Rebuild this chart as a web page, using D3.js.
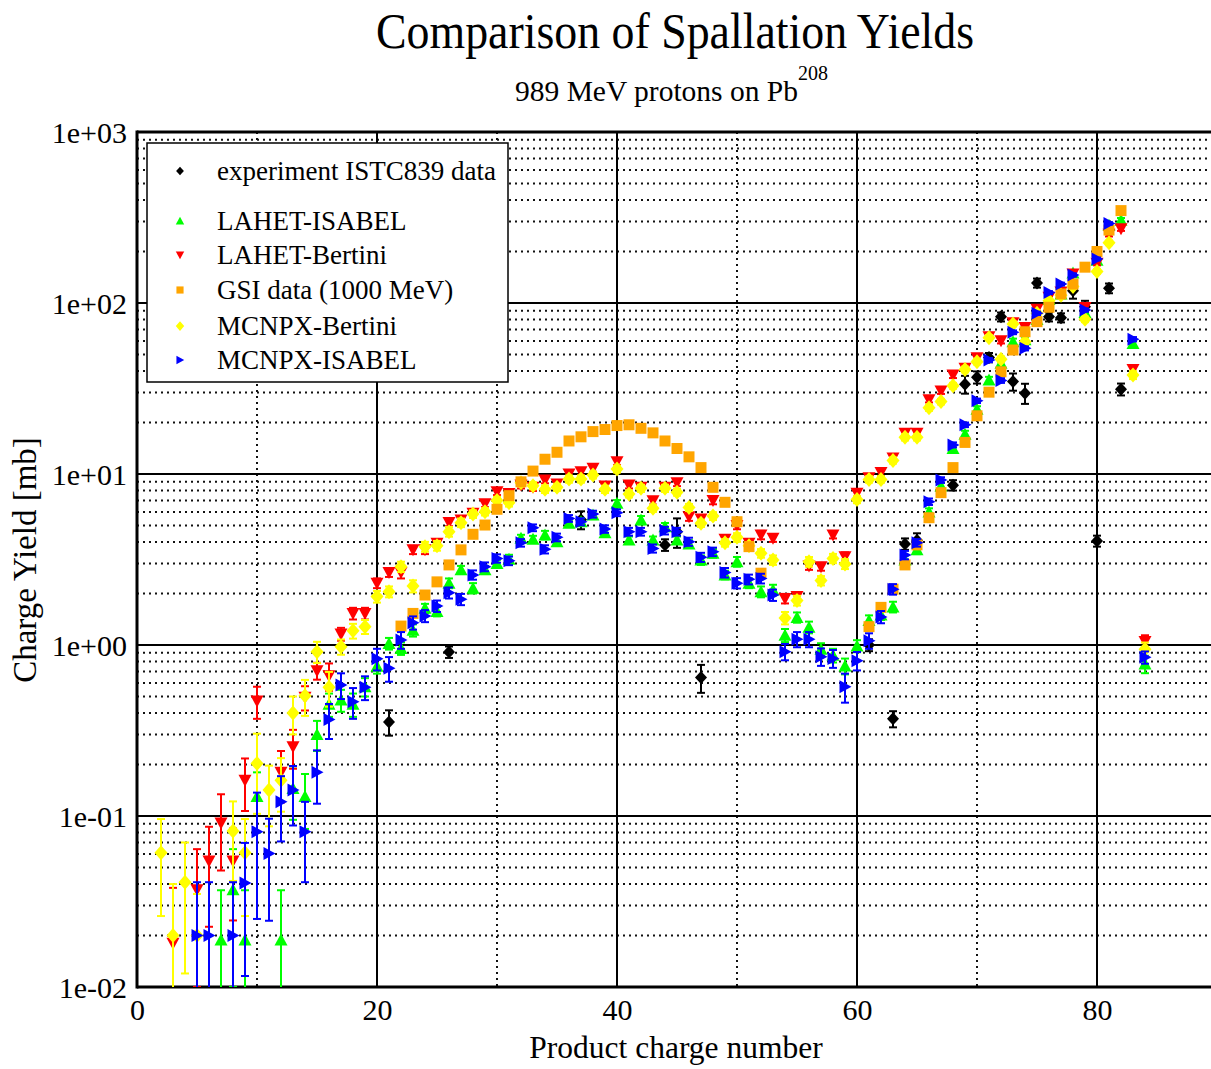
<!DOCTYPE html>
<html>
<head>
<meta charset="utf-8">
<script src="https://cdn.jsdelivr.net/npm/d3@7"></script>
<style>
	body { margin: 0; background: #fff; }
	svg { display: block; }
	text { font-family: "Liberation Serif", "DejaVu Serif", serif; fill: #000; }
</style>
</head>
<body>
<div id="chart"></div>
<script>
// Charge yields [mb] vs product charge Z, 989 MeV p + Pb208
// each entry: [Z, yield, error]
const experiment = [
	[21, 0.355, 0.06], [26, 0.91, 0.07], [37, 5.4, 0.65], [44, 3.85, 0.3], [45, 4.6, 0.9],
	[47, 0.645, 0.12], [61, 1.0, 0.08], [63, 0.37, 0.04], [64, 3.9, 0.3], [65, 4.1, 0.4],
	[68, 8.6, 0.6], [69, 33.5, 4], [70, 36.8, 3], [71, 48, 3], [72, 83, 5], [73, 34.7, 4],
	[74, 29.7, 4], [75, 131, 8], [76, 83, 5], [77, 82, 5], [78, 118, 12], [79, 95, 8],
	[80, 4.06, 0.3], [81, 122, 8], [82, 31.3, 2.5]
];

const lahetIsabel = [
	[7, 0.0188, 0.018], [8, 0.037, 0.027], [9, 0.0188, 0.018], [10, 0.13, 0.05], [12, 0.0188, 0.018],
	[13, 0.145, 0.05], [14, 0.13, 0.046], [15, 0.30, 0.06], [16, 0.45, 0.07], [17, 0.477, 0.07],
	[18, 0.45, 0.07], [19, 0.57, 0.07], [20, 0.75, 0.07], [21, 1.02, 0.08], [22, 0.955, 0.08],
	[23, 1.22, 0.1], [24, 1.64, 0.1], [25, 1.57, 0.1], [26, 2.3, 0.15], [27, 2.75, 0.15],
	[28, 2.15, 0.15], [29, 2.75, 0.15], [30, 3.0, 0.15], [31, 3.17, 0.2], [32, 4.21, 0.2],
	[33, 4.15, 0.2], [34, 4.4, 0.25], [35, 4.02, 0.2], [36, 5.15, 0.25], [37, 5.26, 0.25],
	[38, 5.75, 0.3], [39, 4.54, 0.25], [40, 6.74, 0.3], [41, 4.11, 0.2], [42, 5.38, 0.3],
	[43, 4.11, 0.2], [44, 4.92, 0.25], [45, 4.11, 0.2], [46, 3.9, 0.2], [47, 3.14, 0.2],
	[48, 3.44, 0.2], [49, 2.57, 0.15], [50, 3.07, 0.2], [51, 2.3, 0.15], [52, 2.05, 0.15],
	[53, 2.1, 0.15], [54, 1.14, 0.1], [55, 1.45, 0.1], [56, 1.27, 0.1], [57, 0.944, 0.08],
	[58, 0.87, 0.08], [59, 0.753, 0.08], [60, 0.987, 0.08], [61, 1.39, 0.1], [62, 1.5, 0.1],
	[63, 1.67, 0.12], [64, 3.14, 0.2], [65, 3.6, 0.2], [66, 6.0, 0.3], [67, 8.5, 0.4],
	[68, 14.1, 0.6], [69, 17.1, 0.8], [70, 23.9, 1], [71, 35.5, 1.5], [72, 44.4, 2],
	[73, 59.4, 2.5], [74, 61, 2.5], [75, 80, 3], [76, 105, 4], [77, 113, 4], [78, 150, 5],
	[79, 88, 4], [80, 178, 6], [81, 285, 8], [82, 305, 9], [83, 58, 3], [84, 0.774, 0.09]
];

const lahetBertini = [
	[3, 0.018, 0.02], [5, 0.037, 0.027], [6, 0.0545, 0.032], [7, 0.091, 0.043], [8, 0.0545, 0.03],
	[9, 0.162, 0.055], [10, 0.47, 0.1], [12, 0.18, 0.06], [13, 0.254, 0.065], [14, 0.494, 0.08],
	[15, 0.707, 0.08], [16, 0.66, 0.12], [17, 1.16, 0.1], [18, 1.53, 0.12], [19, 1.53, 0.12],
	[20, 2.3, 0.15], [21, 2.65, 0.15], [22, 2.65, 0.2], [23, 3.6, 0.2], [24, 3.6, 0.2],
	[25, 3.94, 0.2], [26, 5.2, 0.25], [27, 5.38, 0.25], [28, 5.89, 0.3], [29, 6.7, 0.3],
	[30, 7.88, 0.35], [31, 7.7, 0.35], [32, 8.63, 0.4], [33, 8.36, 0.4], [34, 9.22, 0.4],
	[35, 8.75, 0.4], [36, 10.0, 0.45], [37, 10.3, 0.45], [38, 10.8, 0.5], [39, 8.5, 0.4],
	[40, 11.8, 0.5], [41, 8.63, 0.4], [42, 8.36, 0.4], [43, 6.98, 0.35], [44, 8.36, 0.4],
	[45, 8.89, 0.4], [46, 5.62, 0.3], [47, 5.45, 0.3], [48, 7.0, 0.35], [49, 4.15, 0.25],
	[50, 5.0, 0.25], [51, 3.94, 0.2], [52, 4.4, 0.25], [53, 4.21, 0.2], [54, 1.87, 0.12],
	[55, 1.92, 0.12], [56, 2.9, 0.15], [57, 2.87, 0.15], [58, 4.4, 0.2], [59, 3.28, 0.2],
	[60, 7.71, 0.35], [61, 9.5, 0.4], [62, 10.2, 0.45], [63, 12.4, 0.5], [64, 17.3, 0.7],
	[65, 17.3, 0.7], [66, 27.2, 1], [67, 30.6, 1.2], [68, 37.9, 1.5], [69, 41.5, 1.6],
	[70, 47.9, 1.8], [71, 63.5, 2.2], [72, 60.2, 2.2], [73, 76.7, 2.5], [74, 72, 2.5],
	[75, 92, 3], [76, 108, 3.5], [77, 116, 4], [78, 148, 5], [79, 94, 3.5], [80, 171, 5],
	[81, 252, 7], [82, 272, 8], [83, 40.9, 2], [84, 1.05, 0.09]
];

const gsiData = [
	[22, 1.29, 0], [23, 1.53, 0], [24, 1.96, 0], [25, 2.34, 0], [26, 2.94, 0], [27, 3.6, 0],
	[28, 4.44, 0], [29, 5.03, 0], [30, 6.22, 0], [31, 7.47, 0], [32, 9.0, 0], [33, 10.4, 0],
	[34, 12.2, 0], [35, 13.4, 0], [36, 15.6, 0], [37, 16.5, 0], [38, 17.7, 0], [39, 18.2, 0],
	[40, 19.2, 0], [41, 19.4, 0], [42, 18.5, 0], [43, 17.4, 0], [44, 15.6, 0], [45, 14.1, 0],
	[46, 12.6, 0], [47, 10.9, 0], [48, 8.36, 0], [49, 6.83, 0], [50, 5.26, 0], [51, 3.76, 0],
	[52, 2.63, 0], [61, 1.28, 0], [62, 1.66, 0], [63, 2.12, 0], [64, 2.94, 0], [65, 3.85, 0],
	[66, 5.55, 0], [67, 7.78, 0], [68, 10.9, 0], [69, 15.3, 0], [70, 21.9, 0], [71, 30.1, 0],
	[72, 39.6, 0], [73, 53.1, 0], [74, 67.9, 0], [75, 77.8, 0], [76, 94.4, 0], [77, 113, 0],
	[78, 129, 0], [79, 162, 0], [80, 200, 0], [81, 267, 0], [82, 347, 0]
];

const mcnpxBertini = [
	[2, 0.061, 0.035], [3, 0.020, 0.02], [4, 0.041, 0.029], [5, 0.020, 0.015], [8, 0.0817, 0.04],
	[9, 0.061, 0.035], [10, 0.203, 0.1], [11, 0.142, 0.055], [12, 0.162, 0.056], [13, 0.40, 0.1],
	[14, 0.505, 0.12], [15, 0.914, 0.13], [16, 0.566, 0.13], [17, 0.977, 0.1], [18, 1.21, 0.12],
	[19, 1.28, 0.12], [20, 1.92, 0.15], [21, 2.05, 0.15], [22, 2.87, 0.2], [23, 2.21, 0.18],
	[24, 3.76, 0.25], [25, 3.81, 0.25], [26, 4.6, 0.3], [27, 5.19, 0.3], [28, 5.83, 0.3],
	[29, 6.02, 0.3], [30, 7.0, 0.35], [31, 6.8, 0.35], [32, 8.89, 0.4], [33, 8.55, 0.4],
	[34, 8.14, 0.4], [35, 8.36, 0.4], [36, 9.35, 0.45], [37, 9.35, 0.45], [38, 9.86, 0.45],
	[39, 8.14, 0.4], [40, 10.7, 0.5], [41, 7.64, 0.35], [42, 8.25, 0.4], [43, 6.3, 0.3],
	[44, 8.25, 0.4], [45, 7.82, 0.35], [46, 6.38, 0.3], [47, 5.15, 0.25], [48, 5.68, 0.3],
	[49, 3.96, 0.2], [50, 4.26, 0.25], [51, 3.8, 0.2], [52, 3.44, 0.2], [53, 3.14, 0.2],
	[54, 1.44, 0.12], [55, 1.82, 0.12], [56, 3.07, 0.2], [57, 2.38, 0.15], [58, 3.21, 0.2],
	[59, 2.98, 0.2], [60, 7.1, 0.35], [61, 9.3, 0.4], [62, 9.3, 0.4], [63, 12.0, 0.5],
	[64, 16.4, 0.7], [65, 16.4, 0.7], [66, 24.4, 1], [67, 26.5, 1], [68, 32.8, 1.3],
	[69, 40.9, 1.6], [70, 45.4, 1.7], [71, 62.7, 2.2], [72, 46.9, 1.8], [73, 75.4, 2.5],
	[74, 59.4, 2.2], [75, 87, 3], [76, 103, 3.5], [77, 111, 3.5], [78, 125, 4], [79, 80.3, 3],
	[80, 153, 5], [81, 225, 7], [83, 37.9, 2], [84, 0.944, 0.09]
];

const mcnpxIsabel = [
	[5, 0.020, 0.021], [6, 0.020, 0.021], [8, 0.020, 0.021], [9, 0.0406, 0.029], [10, 0.081, 0.056],
	[11, 0.0604, 0.036], [12, 0.121, 0.05], [13, 0.142, 0.054], [14, 0.081, 0.04], [15, 0.18, 0.062],
	[16, 0.367, 0.085], [17, 0.583, 0.1], [18, 0.465, 0.095], [19, 0.566, 0.09], [20, 0.83, 0.12],
	[21, 0.73, 0.12], [22, 1.07, 0.12], [23, 1.35, 0.12], [24, 1.48, 0.12], [25, 1.69, 0.13],
	[26, 2.02, 0.15], [27, 1.85, 0.14], [28, 2.57, 0.16], [29, 2.87, 0.17], [30, 3.21, 0.18],
	[31, 3.11, 0.18], [32, 3.96, 0.2], [33, 4.85, 0.22], [34, 3.63, 0.2], [35, 4.26, 0.22],
	[36, 5.5, 0.25], [37, 5.26, 0.25], [38, 5.83, 0.27], [39, 4.77, 0.24], [40, 5.94, 0.27],
	[41, 4.6, 0.24], [42, 4.6, 0.24], [43, 3.67, 0.2], [44, 4.67, 0.24], [45, 4.6, 0.24],
	[46, 4.02, 0.22], [47, 3.26, 0.2], [48, 3.51, 0.2], [49, 2.65, 0.17], [50, 2.3, 0.16],
	[51, 2.42, 0.16], [52, 2.45, 0.16], [53, 1.96, 0.15], [54, 0.914, 0.1], [55, 1.08, 0.11],
	[56, 1.08, 0.11], [57, 0.855, 0.1], [58, 0.835, 0.1], [59, 0.57, 0.11], [60, 0.81, 0.1],
	[61, 1.06, 0.11], [62, 1.46, 0.12], [63, 2.12, 0.15], [64, 3.36, 0.19], [65, 3.96, 0.2],
	[66, 6.89, 0.3], [67, 9.22, 0.35], [68, 14.8, 0.5], [69, 19.4, 0.6], [70, 26.8, 0.8],
	[71, 46.4, 1.3], [72, 35.2, 1.1], [73, 67.4, 1.7], [74, 54.3, 1.5], [75, 87, 2],
	[76, 115, 2.3], [77, 129, 2.5], [78, 146, 3], [79, 91, 2], [80, 181, 3.5], [81, 292, 5],
	[83, 61.4, 1.8], [84, 0.847, 0.07]
];

const xTicks = [0, 20, 40, 60, 80];
const xMinorGrid = [10, 30, 50, 70, 90];
const yTicks = [1e-2, 1e-1, 1e0, 1e1, 1e2, 1e3];

(function() {
	const width = 1211, height = 1069;
	const plotLeft = 137, plotTop = 132, plotBottom = 987;

	const svg = d3.select('#chart').append('svg')
		.attr('width', width)
		.attr('height', height)
		.style('background', '#fff');

	const x = d3.scaleLinear().domain([0, 90]).range([plotLeft, plotLeft + 90 * 12]);
	const y = d3.scaleLog().domain([1e-2, 1e3]).range([plotBottom, plotTop]);

	svg.append('clipPath').attr('id', 'plot-clip')
		.append('rect')
		.attr('x', plotLeft).attr('y', plotTop)
		.attr('width', width - plotLeft).attr('height', plotBottom - plotTop);

	// grid
	const grid = svg.append('g').attr('clip-path', 'url(#plot-clip)');
	const minorY = [];
	yTicks.slice(0, -1).forEach(d => { for (let k = 2; k <= 9; k++) minorY.push(d * k); });

	grid.selectAll('.gy-minor').data(minorY).enter().append('line')
		.attr('x1', plotLeft).attr('x2', width)
		.attr('y1', d => y(d)).attr('y2', d => y(d))
		.attr('stroke', '#111').attr('stroke-width', 2)
		.attr('stroke-dasharray', '2 4');

	grid.selectAll('.gx-minor').data(xMinorGrid).enter().append('line')
		.attr('x1', d => x(d)).attr('x2', d => x(d))
		.attr('y1', plotTop).attr('y2', plotBottom)
		.attr('stroke', '#111').attr('stroke-width', 2)
		.attr('stroke-dasharray', '2 4');

	grid.selectAll('.gy-major').data(yTicks.slice(1, -1)).enter().append('line')
		.attr('x1', plotLeft).attr('x2', width)
		.attr('y1', d => y(d)).attr('y2', d => y(d))
		.attr('stroke', '#000').attr('stroke-width', 2);

	grid.selectAll('.gx-major').data(xTicks.slice(1)).enter().append('line')
		.attr('x1', d => x(d)).attr('x2', d => x(d))
		.attr('y1', plotTop).attr('y2', plotBottom)
		.attr('stroke', '#000').attr('stroke-width', 2);

	// frame
	svg.append('line').attr('x1', plotLeft).attr('x2', plotLeft)
		.attr('y1', plotTop - 1.5).attr('y2', plotBottom + 1.5)
		.attr('stroke', '#000').attr('stroke-width', 3);
	svg.append('line').attr('x1', plotLeft).attr('x2', width)
		.attr('y1', plotBottom).attr('y2', plotBottom)
		.attr('stroke', '#000').attr('stroke-width', 3);
	svg.append('line').attr('x1', plotLeft).attr('x2', width)
		.attr('y1', plotTop).attr('y2', plotTop)
		.attr('stroke', '#000').attr('stroke-width', 3);

	// tick labels via d3 axes
	const fmtExp = v => {
		const e = Math.round(Math.log10(v));
		return '1e' + (e < 0 ? '-' : '+') + String(Math.abs(e)).padStart(2, '0');
	};

	const yAxis = svg.append('g')
		.attr('transform', `translate(${plotLeft},0)`)
		.call(d3.axisLeft(y).tickValues(yTicks).tickFormat(fmtExp).tickSize(0).tickPadding(10));
	yAxis.select('.domain').remove();
	yAxis.selectAll('text')
		.style('font-family', '"Liberation Serif", serif')
		.style('font-size', '30px')
		.attr('dy', '0.34em');

	const xAxis = svg.append('g')
		.attr('transform', `translate(0,${plotBottom})`)
		.call(d3.axisBottom(x).tickValues(xTicks).tickFormat(d3.format('d')).tickSize(0).tickPadding(12));
	xAxis.select('.domain').remove();
	xAxis.selectAll('text')
		.style('font-family', '"Liberation Serif", serif')
		.style('font-size', '30px');

	// series
	const series = [
		{ name: 'experiment ISTC839 data', data: experiment, color: '#000000', shape: 'bdiamond' },
		{ name: 'LAHET-ISABEL', data: lahetIsabel, color: '#00ff00', shape: 'up' },
		{ name: 'LAHET-Bertini', data: lahetBertini, color: '#ff0000', shape: 'down' },
		{ name: 'GSI data (1000 MeV)', data: gsiData, color: '#ffa500', shape: 'square' },
		{ name: 'MCNPX-Bertini', data: mcnpxBertini, color: '#ffff00', shape: 'diamond' },
		{ name: 'MCNPX-ISABEL', data: mcnpxIsabel, color: '#0000ff', shape: 'right' }
	];

	const shapes = {
		bdiamond: 'M0,-6.5L6,0L0,6.5L-6,0Z',
		up: 'M0,-6.5L6.5,5.5L-6.5,5.5Z',
		down: 'M0,6.5L6.5,-5.5L-6.5,-5.5Z',
		square: 'M-5.5,-5.5H5.5V5.5H-5.5Z',
		diamond: 'M0,-7.5L6.5,0L0,7.5L-6.5,0Z',
		right: 'M6.5,0L-5.5,-6.5L-5.5,6.5Z'
	};

	const plot = svg.append('g').attr('clip-path', 'url(#plot-clip)');
	const drawOrder = [0, 1, 2, 4, 3, 5];

	drawOrder.forEach(i => {
		const s = series[i];
		const g = plot.append('g');
		const withErr = s.data.filter(d => d[2] > 0);
		const lo = d => y(Math.max(d[1] - d[2], 1e-4));
		const hi = d => y(d[1] + d[2]);

		g.selectAll('.eb').data(withErr).enter().append('line')
			.attr('x1', d => x(d[0])).attr('x2', d => x(d[0]))
			.attr('y1', lo).attr('y2', hi)
			.attr('stroke', s.color).attr('stroke-width', 2);
		g.selectAll('.cap-hi').data(withErr).enter().append('line')
			.attr('x1', d => x(d[0]) - 4).attr('x2', d => x(d[0]) + 4)
			.attr('y1', hi).attr('y2', hi)
			.attr('stroke', s.color).attr('stroke-width', 2);
		g.selectAll('.cap-lo').data(withErr).enter().append('line')
			.attr('x1', d => x(d[0]) - 4).attr('x2', d => x(d[0]) + 4)
			.attr('y1', lo).attr('y2', lo)
			.attr('stroke', s.color).attr('stroke-width', 2);

		g.selectAll('.mk').data(s.data).enter().append('path')
			.attr('d', shapes[s.shape])
			.attr('transform', d => `translate(${x(d[0])},${y(d[1])})`)
			.attr('fill', s.color);
	});

	// legend
	const legend = svg.append('g');
	legend.append('rect')
		.attr('x', 147).attr('y', 143)
		.attr('width', 361).attr('height', 239)
		.attr('fill', '#fff').attr('stroke', '#000').attr('stroke-width', 1.5);

	const legendRows = [171, 221, 255, 290, 326, 360];
	series.forEach((s, i) => {
		legend.append('path')
			.attr('d', shapes[s.shape])
			.attr('transform', `translate(180,${legendRows[i]}) scale(0.65)`)
			.attr('fill', s.color);
		legend.append('text')
			.attr('x', 217).attr('y', legendRows[i] + 9)
			.style('font-size', '27px')
			.text(s.name);
	});

	// titles
	svg.append('text')
		.attr('x', 675).attr('y', 48)
		.attr('text-anchor', 'middle')
		.attr('textLength', 598).attr('lengthAdjust', 'spacingAndGlyphs')
		.style('font-size', '50px')
		.text('Comparison of Spallation Yields');

	const sub = svg.append('text')
		.attr('x', 515).attr('y', 101)
		.style('font-size', '29.5px');
	sub.append('tspan').text('989 MeV protons on Pb');
	sub.append('tspan').attr('dy', -21).style('font-size', '20px').text('208');

	svg.append('text')
		.attr('transform', 'translate(36,560) rotate(-90)')
		.attr('text-anchor', 'middle')
		.style('font-size', '33px')
		.text('Charge Yield [mb]');

	svg.append('text')
		.attr('x', 676).attr('y', 1058)
		.attr('text-anchor', 'middle')
		.style('font-size', '31.5px')
		.text('Product charge number');
})();
</script>
</body>
</html>
